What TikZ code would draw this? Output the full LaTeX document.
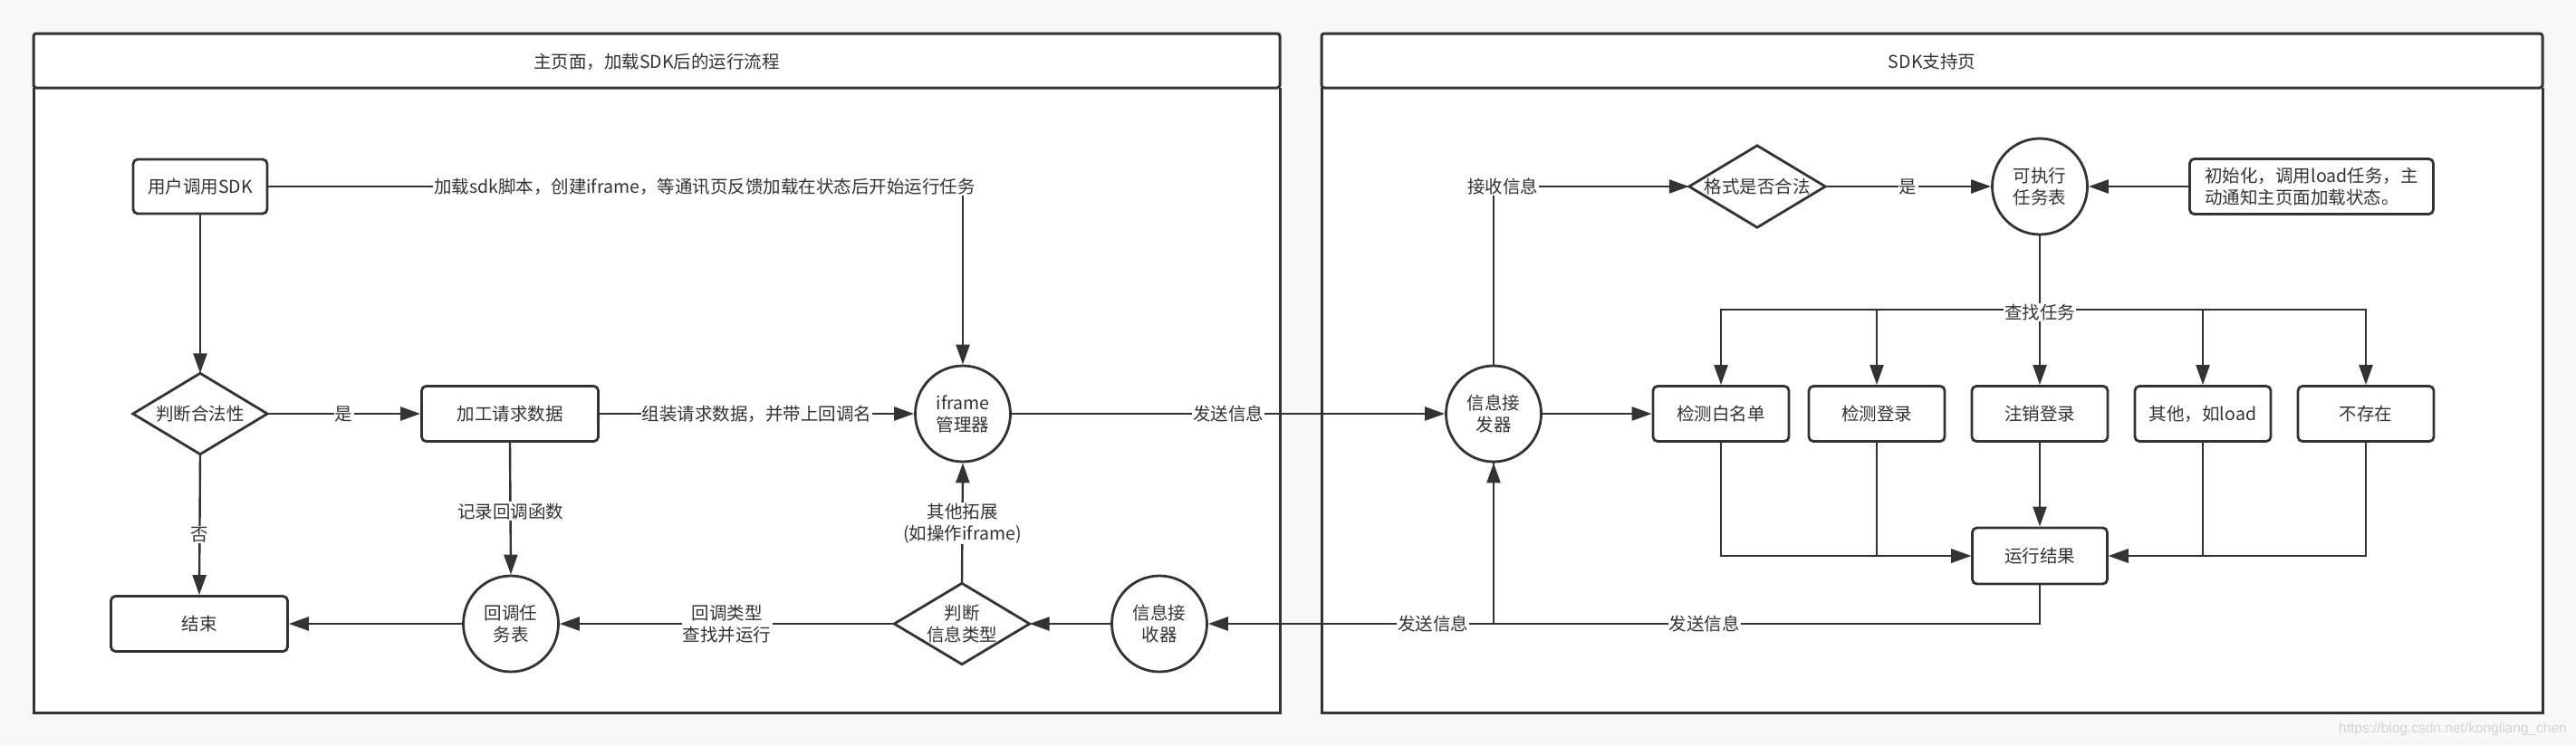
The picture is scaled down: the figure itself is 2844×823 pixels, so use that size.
\documentclass[tikz,border=0pt]{standalone}
\usepackage{fontspec}
\setmainfont{Noto Sans CJK SC}
\newfontfamily\wmfont{Liberation Sans}
\usetikzlibrary{arrows.meta,shapes.geometric}
\definecolor{ink}{HTML}{333333}
\definecolor{bgc}{HTML}{F8F8F8}
\definecolor{wm}{HTML}{D4D4D4}
\newcommand\outlinediamond[1]{\draw[ink, line width=2.8pt] (#1.north) -- (#1.east) -- (#1.south) -- (#1.west) -- cycle;}
\begin{document}
\begin{tikzpicture}[x=1pt,y=-1pt,
  every node/.style={font=\fontsize{19.5}{24}\selectfont, text=ink},
  box/.style={draw=ink, line width=2.8pt, rounded corners=5pt, fill=white, inner sep=2pt, align=center},
  circ/.style={ellipse, draw=ink, line width=2.8pt, fill=white, inner sep=0pt, align=center, minimum width=105pt, minimum height=106pt},
  diam/.style={rectangle, inner sep=0pt, align=center},
  lab/.style={fill=white, inner sep=1.2pt, align=center},
  panel/.style={draw=ink, line width=3pt},
  conn/.style={draw=ink, line width=2.4pt},
  arr/.style={conn, -{Triangle[length=22pt,width=15pt]}}]
\useasboundingbox (0,0) rectangle (2844,823);
\fill[bgc] (0,0) rectangle (2844,823);
% panels
\fill[white] (37,37) rectangle (1413,787);
\draw[panel] (37,97) -- (37,787) -- (1413,787) -- (1413,97);
\draw[panel, rounded corners=3pt] (37,37) rectangle (1413,97);
\node (ltitle) at (725,68) {主页面，加载SDK后的运行流程};
\fill[white] (1459,37) rectangle (2807,787);
\draw[panel] (1459,97) -- (1459,787) -- (2807,787) -- (2807,97);
\draw[panel, rounded corners=3pt] (1459,37) rectangle (2807,97);
\node (rtitle) at (2133,68) {SDK支持页};
% left nodes
\node[box, minimum width=148pt, minimum height=60pt] (sdk) at (221,206) {用户调用SDK};
\node[diam, minimum width=148pt, minimum height=89pt] (legal) at (221,457) {判断合法性};
\outlinediamond{legal}
\node[box, minimum width=195pt, minimum height=61pt] (proc) at (563,457) {加工请求数据};
\node[box, minimum width=195pt, minimum height=61pt] (endn) at (220,689) {结束};
\node[circ] (cbt) at (564,689) {回调任\\务表};
\node[circ] (ifm) at (1063,457) {iframe\\管理器};
\node[diam, minimum width=149pt, minimum height=89pt] (jtype) at (1062,689) {判断\\信息类型};
\outlinediamond{jtype}
\node[circ] (recv) at (1280,689) {信息接\\收器};
% right nodes
\node[circ] (trx) at (1649,457) {信息接\\发器};
\node[diam, minimum width=150pt, minimum height=90pt] (fmt) at (1940,206) {格式是否合法};
\outlinediamond{fmt}
\node[circ] (tbl) at (2252,206) {可执行\\任务表};
\node[box, minimum width=269pt, minimum height=61pt, align=left] (init) at (2552,206) {初始化，调用load任务，主\\动通知主页面加载状态。};
\node[box, minimum width=150pt, minimum height=61pt] (b1) at (1900,457) {检测白名单};
\node[box, minimum width=150pt, minimum height=61pt] (b2) at (2072,457) {检测登录};
\node[box, minimum width=150pt, minimum height=61pt] (b3) at (2252,457) {注销登录};
\node[box, minimum width=150pt, minimum height=61pt] (b4) at (2432,457) {其他，如load};
\node[box, minimum width=150pt, minimum height=61pt] (b5) at (2612,457) {不存在};
\node[box, minimum width=149pt, minimum height=62pt] (res) at (2252,614) {运行结果};
\coordinate (bus) at (2252,342);
\coordinate (jn) at (trx.south |- recv.east);
% left edges
\draw[arr] (sdk.east) -| node[lab, pos=0.314] {加载sdk脚本，创建iframe，等通讯页反馈加载在状态后开始运行任务} (ifm.north);
\draw[arr] (sdk.south) -- (legal.north);
\draw[arr] (legal.east) -- node[lab] {是} (proc.west);
\draw[arr] (legal.south) -- node[lab, pos=0.57] {否} (endn.north);
\draw[arr] (proc.east) -- node[lab] {组装请求数据，并带上回调名} (ifm.west);
\draw[arr] (proc.south) -- node[lab, pos=0.52] {记录回调函数} (cbt.north);
\draw[arr] (cbt.west) -- (endn.east);
\draw[arr] (jtype.west) -- node[lab] {回调类型\\查找并运行} (cbt.east);
\draw[arr] (jtype.north) -- node[lab] {其他拓展\\(如操作iframe)} (ifm.south);
\draw[arr] (recv.west) -- (jtype.east);
\draw[arr] (ifm.east) -- node[lab] {发送信息} (trx.west);
% right edges
\draw[arr] (trx.north) |- node[lab, pos=0.5, xshift=10pt] {接收信息} (fmt.west);
\draw[arr] (fmt.east) -- node[lab] {是} (tbl.west);
\draw[arr] (init.west) -- (tbl.east);
\draw[arr] (trx.east) -- (b1.west);
\draw[conn] (tbl.south) -- (bus);
\draw[arr] (bus) -| (b1.north);
\draw[arr] (bus) -| (b2.north);
\draw[arr] (bus) -- (b3.north);
\draw[arr] (bus) -| (b4.north);
\draw[arr] (bus) -| (b5.north);
\node[lab] (lfind) at (2252,345) {查找任务};
\draw[arr] (b1.south) |- (res.west);
\draw[arr] (b2.south) |- (res.west);
\draw[arr] (b3.south) -- (res.north);
\draw[arr] (b4.south) |- (res.east);
\draw[arr] (b5.south) |- (res.east);
\draw[arr] (trx.south) |- node[lab, pos=0.606] {发送信息} (recv.east);
\draw[arr] (res.south) |- node[lab, pos=0.807] {发送信息} (jn) -- (trx.south);
% watermark
\node[font=\wmfont\fontsize{15.5}{18}\selectfont, text=wm] (wmk) at (2708,805) {https://blog.csdn.net/kongliang\_chen};
\end{tikzpicture}
\end{document}
